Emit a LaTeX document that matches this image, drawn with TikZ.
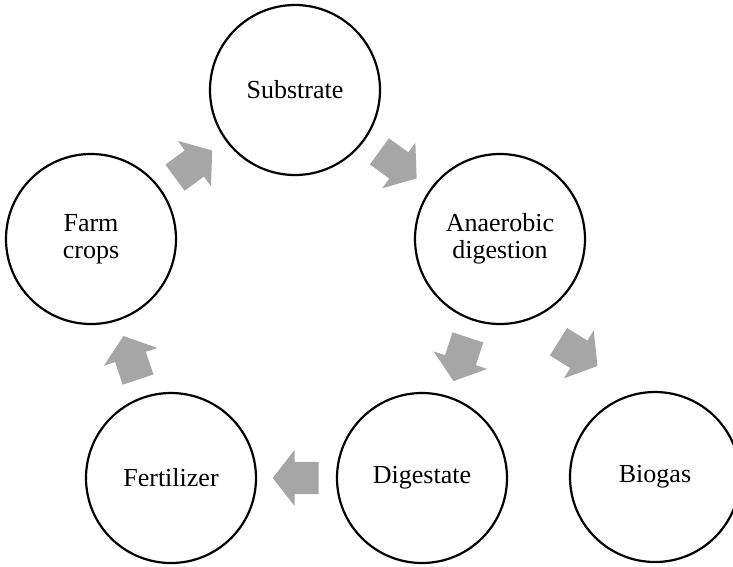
\documentclass[tikz,border=0pt]{standalone}
\usepackage{fontspec}
\setmainfont{Liberation Serif}
\usetikzlibrary{shapes.arrows}
\begin{document}
\begin{tikzpicture}[x=1pt,y=-1pt,
  stage/.style={draw,circle,line width=2.2pt,minimum size=170pt,inner sep=0pt,
    align=center,font=\fontsize{26}{27}\selectfont},
  flow/.style={single arrow,fill=black!35,draw=none,inner xsep=0pt,inner ysep=16pt,
    minimum height=46pt,single arrow head extend=12pt,
    single arrow tip angle=104,sloped,allow upside down,pos=0.43}]
\useasboundingbox (0,0) rectangle (733,566);
% stages of the cycle
\node[stage] (sub) at (295,90) {Substrate};
\node[stage] (fc) at (91,239) {Farm\\crops};
\node[stage] (ad) at (500,239) {Anaerobic\\digestion};
\node[stage] (fer) at (171,478) {Fertilizer};
\node[stage] (dig) at (422,478) {Digestate};
\node[stage] (bio) at (655,477) {Biogas};
% block arrows
\path (fc) -- node[flow] (a1) {} (sub);
\path (sub) -- node[flow] (a2) {} (ad);
\path (ad) -- node[flow] (a3) {} (dig);
\path (ad) -- node[flow,pos=0.42,rotate=25] (a4) {} (bio);
\path (dig) -- node[flow] (a5) {} (fer);
\path (fer) -- node[flow] (a6) {} (fc);
\end{tikzpicture}
\end{document}
